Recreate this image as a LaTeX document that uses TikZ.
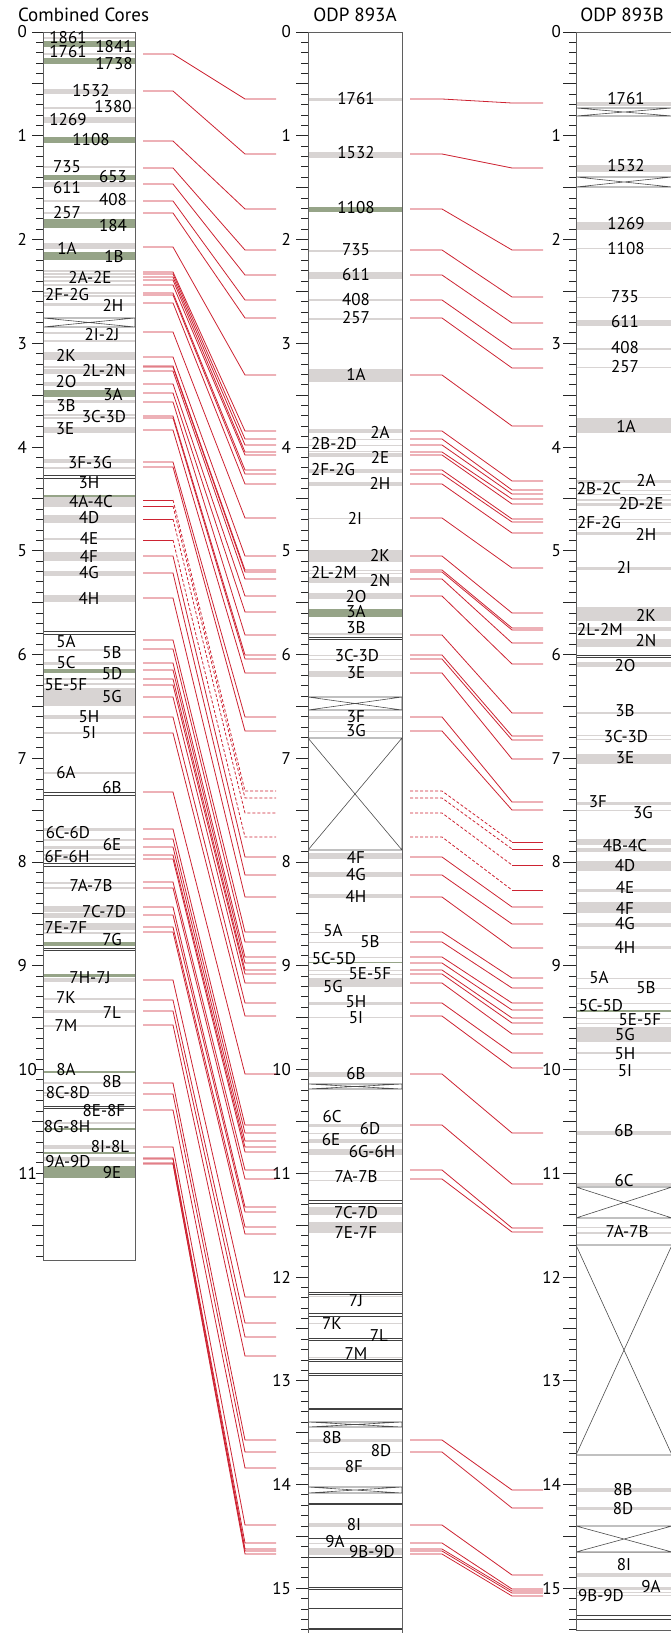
\documentclass[tikz,border=0pt]{standalone}
\usepackage{fontspec}
\setmainfont{PT Sans}
\usepackage{xcolor}
\usepackage{tikz}

\definecolor{bandgray}{RGB}{216,212,211}
\definecolor{bandgreen}{RGB}{150,164,136}
\definecolor{tiered}{RGB}{205,35,50}
\definecolor{coreline}{RGB}{95,95,95}

\tikzset{
  lbl/.style={font=\fontsize{17}{17}\selectfont, inner sep=0pt},
  hdr/.style={font=\fontsize{19}{19}\selectfont, inner sep=0pt},
  tie/.style={draw=tiered, line width=0.8pt},
  tiedash/.style={tie, dash pattern=on 3pt off 2pt},
  corebox/.style={draw=coreline, line width=1pt},
  brk/.style={draw=black!75, line width=0.9pt},
  gapx/.style={draw=black!70, line width=0.6pt},
  tick/.style={draw=black!85, line width=0.8pt}
}

\begin{document}
\begin{tikzpicture}[x=1pt,y=-1pt]
\useasboundingbox (0,0) rectangle (670,1633);

\node[hdr] (hcc) at (83.5,14.5) {Combined Cores};
\node[hdr] (h893a) at (355,14.5) {ODP 893A};
\node[hdr] (h893b) at (622,14.5) {ODP 893B};

% combined cores
\scope
\clip (43,32) rectangle (135,1260);
\foreach \a/\b in {37/39,53/55,89/94,107/109,117/123,166/168,182/187,200/202,212/214,243/249,
  270/271.5,273/274.5,276/277.5,280/281.5,284/286,292/293.5,295/296.5,303/306,332/333.5,340/341.5,
  352/360,366/367.5,369/374,382/386,400/403,414/415.5,417/418.5,427/433,459/463,467/468.5,
  497/507,515/523,538/540,552/561,571/576,595/602,649/650.5,662/665,678/679.5,683/684.5,688/706,
  715/719,732/734,772/774,828/831,839/840.5,846/849,854/855.5,858/859.5,882/883.5,887/888.5,
  906/912,913/918,923/930,932/933.5,978/982,998/1000,1010/1013,1025/1027,1082/1084,1092/1093.5,
  1094.5/1096,1122/1123.5,1145/1149,1157/1161}
  \fill[bandgray] (0,\a) rectangle (700,\b);
\foreach \a/\b in {41/47,58/64,137/143,175/180,219/228,252/260,390/397,495/497,669/673,942/946,
  974/977,1071/1073,1128/1129.5,1152/1153.5,1166/1178}
  \fill[bandgreen] (0,\a) rectangle (700,\b);
\foreach \a in {475,478,631,634,792,795,863,866,948,950,1106,1108}
  \draw[brk] (0,\a) -- (700,\a);
\draw[gapx] (43,318) rectangle (135,327) (43,318) -- (135,327) (43,327) -- (135,318);
\endscope
\draw[corebox] (43,32) rectangle (135,1260);
\foreach \k in {0,...,118}
  \draw[tick] (36,{32+10.375*\k}) -- (43,{32+10.375*\k});
\foreach \k in {0,5,...,95,105,115}
  \draw[tick] (32,{32+10.375*\k}) -- (43,{32+10.375*\k});
\foreach \d in {0,...,9}
  \node[lbl, anchor=east] (cc\d) at (27,{32+103.75*\d}) {\d};
\foreach \d in {10,11}
  \node[lbl, anchor=east] (cc\d) at (37,{32+103.75*\d}) {\d};
\foreach \x/\y/\t [count=\i] in {68/38/1861,114/47/1841,68/52/1761,114/64/1738,91/91/1532,
  113/107/1380,68/120/1269,91/140/1108,67/167/735,113/177/653,67/188/611,113/200/408,67/213/257,
  113/226/184,67/248/1A,114/257/1B,90/277/2A-2E,67/295/2F-2G,113/305/2H,102/335/2I-2J,66/355/2K,
  104/371/2L-2N,66/382/2O,113/395/3A,66/406/3B,104/417/3C-3D,65/429/3E,90/463/3F-3G,89/483/3H,
  91/502/4A-4C,89/518/4D,89/538/4E,89/556/4F,89/573/4G,89/598/4H,66/642/5A,112/653/5B,66/663/5C,
  112/674/5D,66/685/5E-5F,112/697/5G,89/717/5H,89/733/5I,66/773/6A,112/788/6B,68/833/6C-6D,
  112/845/6E,67/857/6F-6H,91/886/7A-7B,104/912/7C-7D,66/928/7E-7F,112/940/7G,90/978/7H-7J,
  66/998/7K,112/1013/7L,66/1026/7M,66/1070/8A,112/1082/8B,68/1093/8C-8D,104/1111/8E-8F,
  67/1127/8G-8H,110/1147/8I-8L,68/1162/9A-9D,112/1173/9E}
  \node[lbl] (cl\i) at (\x,\y) {\t};

% ODP 893A
\scope
\clip (308,32) rectangle (402,1640);
\foreach \a/\b in {98/100.5,152/158,250/252,272/279,299/301,318/320,369/382,429/433,438.5/440,
  444.5/446,450.5/452,453/457,469/473,482/486,517.5/519,550/562,569.5/571,572.5/574,577/583,
  593/599,633/635,654.5/656,658.5/660,671/677,716/719,730.5/732,853/859,872/877,894/898,
  931.5/933,941.5/943,956.5/958,969.5/971,973.5/975,978/987,1002/1005,1016.5/1018,1072/1077,
  1124/1127,1132.5/1134,1139/1143,1149/1155,1170.5/1172,1179.5/1181,1207/1215,1222/1233,
  1295.5/1297,1322.5/1324,1356.5/1358,1439/1442,1451.5/1453,1467/1470,1523/1527,1542.5/1544,
  1548/1555}
  \fill[bandgray] (0,\a) rectangle (700,\b);
\foreach \a/\b in {207/212,609/617,961.5/963}
  \fill[bandgreen] (0,\a) rectangle (700,\b);
\foreach \a in {637,639,1200,1203,1292,1294,1313,1316,1338,1340,1359,1361,1373,1375,1408,
  1409.5,1503,1504.5,1538,1557,1587,1589,1608,1628,1629.5}
  \draw[brk] (0,\a) -- (700,\a);
\foreach \a/\b in {697/710,738/850,1084/1089,1422/1427,1487/1493}
  \draw[gapx] (308,\a) rectangle (402,\b) (308,\a) -- (402,\b) (308,\b) -- (402,\a);
\endscope
\draw[corebox] (308,1640) -- (308,32) -- (402,32) -- (402,1640);
\foreach \k in {0,...,155}
  \draw[tick] (301,{32+10.375*\k}) -- (308,{32+10.375*\k});
\foreach \k in {0,5,...,155}
  \draw[tick] (296,{32+10.375*\k}) -- (308,{32+10.375*\k});
\foreach \d in {0,...,15}
  \node[lbl, anchor=east] (da\d) at (291,{32+103.75*\d}) {\d};
\foreach \x/\y/\t [count=\i] in {356/99/1761,356/153/1532,356/208/1108,356/250/735,356/275/611,
  356/300/408,356/318/257,356/374/1A,380/432/2A,334/444/2B-2D,380/457/2E,333/470/2F-2G,
  380/483/2H,355/518/2I,380/555/2K,334/572/2L-2M,380/581/2N,356/597/2O,356/612/3A,356/628/3B,
  357/656/3C-3D,356/673/3E,356/717/3F,356/731/3G,356/857/4F,356/875/4G,356/896/4H,333/931/5A,
  370/942/5B,334/959/5C-5D,370/974/5E-5F,333/987/5G,356/1002/5H,356/1018/5I,356/1074/6B,
  332/1117/6C,370/1129/6D,331/1140/6E,372/1152/6G-6H,356/1177/7A-7B,356/1213/7C-7D,
  356/1233/7E-7F,356/1301/7J,332/1324/7K,379/1336/7L,356/1354/7M,332/1438/8B,381/1451/8D,
  354/1467/8F,354/1525/8I,335/1542/9A,372/1552/9B-9D}
  \node[lbl] (al\i) at (\x,\y) {\t};

% ODP 893B
\scope
\clip (576,32) rectangle (672,1630);
\foreach \a/\b in {102/106,165/172,222/230,247.5/249,296.5/298,320/326,347.5/350,366.5/368,
  418/433,480/483,489.5/491,493.5/495,499/501,503/506,518.5/520,521.5/523,532/535,567/570,
  607/621,627/631,639/647,662/667,712/714,734.5/736,738.5/740,754/764,802/805,809.5/811,
  839/845,848/852,861/871,889/892,902/913,923/927,946/949,977.5/979,987.5/989,1002.5/1004,
  1017.5/1019,1022.5/1024,1027/1042,1052/1054,1068.5/1070,1131/1135,1183/1186,1226.5/1228,
  1232/1234,1488/1492,1507/1510,1551.5/1553,1573/1577,1587/1590,1591.5/1593,1594.5/1596}
  \fill[bandgray] (0,\a) rectangle (700,\b);
\fill[bandgreen] (0,1010) rectangle (700,1012);
\foreach \a in {655,657,1615,1619}
  \draw[brk] (0,\a) -- (700,\a);
\foreach \a/\b in {108/116,177/187,1187/1218,1245/1455,1526/1552}
  \draw[gapx] (576,\a) rectangle (672,\b) (576,\a) -- (672,\b) (576,\b) -- (672,\a);
\endscope
\draw[corebox] (576,32) rectangle (672,1630);
\foreach \k in {0,...,154}
  \draw[tick] (569,{32+10.375*\k}) -- (576,{32+10.375*\k});
\foreach \k in {0,5,...,150}
  \draw[tick] (563,{32+10.375*\k}) -- (576,{32+10.375*\k});
\foreach \d in {0,...,15}
  \node[lbl, anchor=east] (db\d) at (561,{32+103.75*\d}) {\d};
\foreach \x/\y/\t [count=\i] in {626/99/1761,626/166/1532,626/224/1269,626/249/1108,625/297/735,
  625/322/611,625/348/408,625/367/257,626/426/1A,646/480/2A,599/489/2B-2C,641/504/2D-2E,
  599/523/2F-2G,646/534/2H,624/567/2I,646/615/2K,600/629/2L-2M,646/641/2N,625/666/2O,
  625/711/3B,626/737/3C-3D,625/758/3E,598/802/3F,643/813/3G,625/846/4B-4C,625/866/4D,
  625/887/4E,625/908/4F,625/924/4G,625/947/4H,599/978/5A,646/988/5B,601/1006/5C-5D,
  640/1020/5E-5F,625/1035/5G,625/1054/5H,625/1071/5I,624/1131/6B,624/1181/6C,627/1232/7A-7B,
  623/1490/8B,623/1509/8D,624/1565/8I,651/1587/9A,601/1596/9B-9D}
  \node[lbl] (bl\i) at (\x,\y) {\t};

% ties combined -> 893A
\foreach \a/\b in {54/99,91/154,141/209,168/250,184/275,201/300,213/318,247/375,272/431,
  274/439,277/445,280/452,285/455,293/470,295/474,303/484,332/518,357/556,366/570,367/572,
  371/579,384/596,393/612,402/635,416/655,418/659,430/673,462/717,467/731,556/857,573/875,
  598/897,640/932,649/942,663/957,670/963,679/970,685/974,697/983,717/1003,733/1016,792/1074,
  829/1125,839/1133,847/1141,855/1147,859/1152,882/1170,888/1179,907/1207,915/1212,927/1227,
  932/1234,980/1297,1000/1323,1011/1337,1025/1356,1083/1440,1094/1452,1110/1468,1147/1525,
  1158/1543,1159/1549,1163/1551,1164/1554}
  \draw[tie] (143,\a) -- (173,\a) -- (245,\b) -- (276,\b);
\foreach \a/\b in {500/791,506/798,519/813,540/837}{
  \draw[tie] (143,\a) -- (173,\a);
  \draw[tiedash] (173,\a) -- (245,\b) -- (276,\b);
}

% ties 893A -> 893B
\foreach \a/\b in {99/103,154/168,209/250,250/297,275/323,300/349,318/368,375/426,431/481,
  439/490,445/494,452/499,455/504,470/519,474/522,484/533,518/568,556/613,570/628,572/630,
  579/643,596/664,635/713,655/736,659/740,673/759,717/802,731/810,857/907,875/924,897/948,
  932/978,942/988,957/1003,963/1010,970/1018,974/1023,983/1034,1003/1053,1016/1068,1074/1133,
  1125/1184,1170/1228,1179/1232,1440/1490,1452/1508,1525/1575,1543/1589,1549/1591,1551/1593,
  1554/1596}
  \draw[tie] (410,\a) -- (442,\a) -- (512,\b) -- (543,\b);
\foreach \a/\b in {791/842,798/849,813/865,837/890}{
  \draw[tiedash] (410,\a) -- (442,\a) -- (512,\b);
  \draw[tie] (512,\b) -- (543,\b);
}
\end{tikzpicture}
\end{document}
